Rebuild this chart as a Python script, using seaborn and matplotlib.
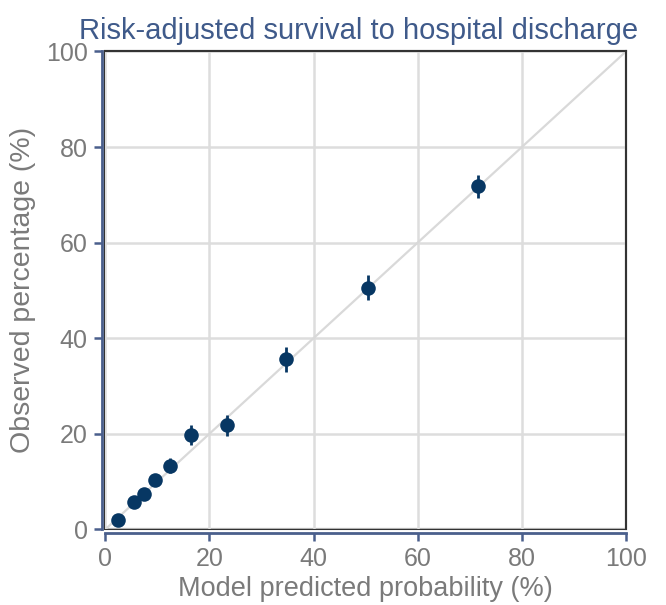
import matplotlib
matplotlib.use("Agg")
import matplotlib.pyplot as plt
import seaborn as sns
import pandas as pd

predicted = [2.5, 5.6, 7.5, 9.6, 12.5, 16.5, 23.4, 34.7, 50.4, 71.6]
observed = [1.9, 5.8, 7.5, 10.4, 13.3, 19.8, 21.8, 35.6, 50.6, 71.8]
err = [0.8, 1.0, 1.0, 1.1, 1.6, 2.1, 2.2, 2.6, 2.7, 2.4]
ticks = [0, 20, 40, 60, 80, 100]

title = "Risk-adjusted survival to hospital discharge"
xlabel = "Model predicted probability (%)"
ylabel = "Observed percentage (%)"

df = pd.DataFrame({"pred": predicted, "obs": observed, "err": err})

sns.set_theme(style="white")
plt.rcParams['font.family'] = ['Liberation Sans', 'DejaVu Sans']

navy = "#073763"
blue = "#4a5f8c"
gray_text = "#7a7a7a"
grid_c = "#dddddd"

fig = plt.figure(figsize=(6.66, 6.05), dpi=100)
ax = fig.add_axes([0.158, 0.125, 0.782, 0.790])

ax.set_xlim(0, 100)
ax.set_ylim(0, 100)
ax.set_xticks(ticks)
ax.set_yticks(ticks)
ax.grid(True, color=grid_c, linewidth=1.8)
ax.set_axisbelow(True)

ax.plot([0, 100], [0, 100], color="#d9d9d9", linewidth=1.6, zorder=1)

ax.errorbar(df["pred"], df["obs"], yerr=df["err"], fmt="none",
            ecolor=navy, elinewidth=2, capsize=0, zorder=3)
sns.scatterplot(data=df, x="pred", y="obs", ax=ax, color=navy, s=110,
                edgecolor=navy, linewidth=0, zorder=4)

for s in ["top", "right"]:
    ax.spines[s].set_color("#333333")
    ax.spines[s].set_linewidth(1.5)
for s in ["left", "bottom"]:
    ax.spines[s].set_color(blue)
    ax.spines[s].set_linewidth(2.0)
    ax.spines[s].set_position(("outward", 2.5))
ax.patch.set_edgecolor("#333333")
ax.patch.set_linewidth(1.5)

ax.tick_params(axis="both", which="major", direction="out", length=6,
               width=1.8, color=blue, labelcolor=gray_text, labelsize=18,
               pad=4, bottom=True, left=True)

ax.set_xlabel(xlabel, fontsize=19.5, color=gray_text, labelpad=4)
ax.set_ylabel(ylabel, fontsize=20.5, color=gray_text, labelpad=7)
ax.set_title(title, fontsize=21, color="#3f5a8a", pad=9, x=0.486)

fig.savefig("out.png", dpi=100)
